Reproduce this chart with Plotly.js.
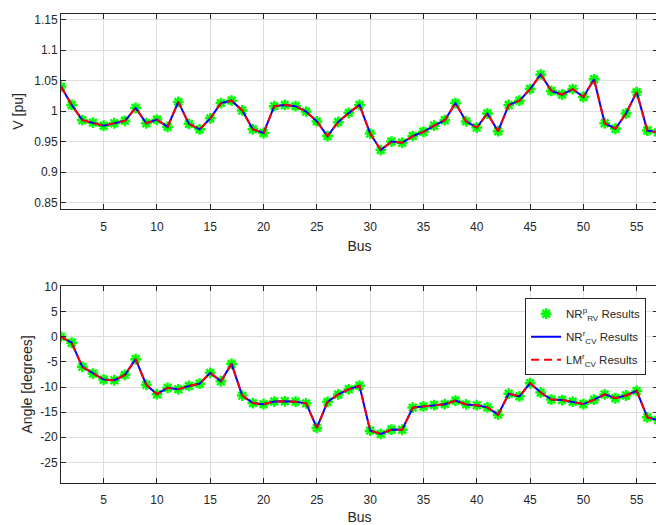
<!DOCTYPE html>
<html>
<head>
<meta charset="utf-8">
<script src="https://cdn.plot.ly/plotly-3.0.1.min.js"></script>
<style>
html,body{margin:0;padding:0;overflow:hidden;background:#fff;}
#chart{width:658px;height:525px;}
</style>
</head>
<body>
<div id="chart"></div>
<script>
// Bus numbers
const bus = [1,2,3,4,5,6,7,8,9,10,11,12,13,14,15,16,17,18,19,20,21,22,23,24,25,26,27,28,29,30,
             31,32,33,34,35,36,37,38,39,40,41,42,43,44,45,46,47,48,49,50,51,52,53,54,55,56,57];
// Voltage magnitude [pu] (all three methods coincide)
const voltage = [1.040,1.010,0.985,0.981,0.976,0.980,0.984,1.005,0.980,0.986,0.974,1.015,0.979,0.970,0.988,
                 1.013,1.017,1.001,0.970,0.964,1.008,1.010,1.008,0.999,0.983,0.959,0.982,0.997,1.010,0.963,
                 0.936,0.950,0.948,0.959,0.966,0.976,0.985,1.013,0.983,0.973,0.996,0.967,1.010,1.017,1.036,
                 1.060,1.033,1.027,1.036,1.023,1.052,0.980,0.971,0.996,1.031,0.968,0.965];
// Voltage angle [degrees]
const angle = [0.00,-1.19,-5.99,-7.32,-8.52,-8.65,-7.58,-4.45,-9.56,-11.43,-10.17,-10.46,-9.79,-9.33,-7.18,
               -8.85,-5.39,-11.71,-13.20,-13.41,-12.89,-12.84,-12.91,-13.25,-18.13,-12.95,-11.48,-10.45,-9.75,-18.68,
               -19.34,-18.46,-18.50,-14.10,-13.86,-13.59,-13.41,-12.71,-13.46,-13.62,-14.05,-15.50,-11.33,-11.86,-9.25,
               -11.09,-12.49,-12.59,-12.92,-13.39,-12.52,-11.47,-12.23,-11.69,-10.78,-16.04,-16.56];

const seriesNames = ['NR<sup>p</sup><sub>RV</sub> Results', 'NR<sup>r</sup><sub>CV</sub> Results', 'LM<sup>r</sup><sub>CV</sub> Results'];

const xTickVals = [5,10,15,20,25,30,35,40,45,50,55];
const xTickText = ['5','10','15','20','25','30','35','40','45','50','55'];
const vTickVals = [0.85,0.9,0.95,1,1.05,1.1,1.15];
const vTickText = ['0.85','0.9','0.95','1','1.05','1.1','1.15'];
const aTickVals = [-25,-20,-15,-10,-5,0,5,10];
const aTickText = ['-25','-20','-15','-10','-5','0','5','10'];

const axisCol = '#262626';
const gridCol = '#dedede';
const fam = 'Liberation Sans, Arial, sans-serif';
const font = {family: fam, size: 12, color: axisCol};
const titleFont = {family: fam, size: 14, color: axisCol};

function mk(yvals, yaxis, xaxis, show) {
  return [
    {x: bus, y: yvals, xaxis: xaxis, yaxis: yaxis, type: 'scatter', mode: 'markers', name: seriesNames[0],
     legendgroup: 'g1', showlegend: show,
     marker: {symbol: 'asterisk-open', size: 9, color: '#00ff00', line: {color: '#00ff00', width: 2.5}}},
    {x: bus, y: yvals, xaxis: xaxis, yaxis: yaxis, type: 'scatter', mode: 'lines', name: seriesNames[1],
     legendgroup: 'g2', showlegend: show, line: {color: '#0000ff', width: 2}},
    {x: bus, y: yvals, xaxis: xaxis, yaxis: yaxis, type: 'scatter', mode: 'lines', name: seriesNames[2],
     legendgroup: 'g3', showlegend: show, line: {color: '#ff0000', width: 2, dash: '8px,5px'}}
  ];
}

const data = mk(voltage, 'y', 'x', false).concat(mk(angle, 'y2', 'x2', true));

const xBase = {
  range: [1, 57], tickvals: xTickVals, ticktext: xTickText,
  showgrid: true, gridcolor: gridCol, gridwidth: 1, zeroline: false,
  showline: true, linecolor: axisCol, linewidth: 1, mirror: 'ticks',
  ticks: 'inside', ticklen: 5, tickcolor: axisCol, tickfont: font, ticklabelstandoff: 6,
  title: {text: 'Bus', font: titleFont, standoff: 8}
};
const yBase = {
  showgrid: true, gridcolor: gridCol, gridwidth: 1, zeroline: false,
  showline: true, linecolor: axisCol, linewidth: 1, mirror: 'ticks',
  ticks: 'inside', ticklen: 5, tickcolor: axisCol, tickfont: font
};

const layout = {
  width: 658, height: 525,
  margin: {l: 61, r: 0, t: 14, b: 42},
  paper_bgcolor: '#fff', plot_bgcolor: '#fff',
  font: font,
  xaxis: Object.assign({}, xBase, {domain: [0, 1], anchor: 'y'}),
  yaxis: Object.assign({}, yBase, {domain: [0.5836, 1], anchor: 'x', range: [0.839, 1.159],
    tickvals: vTickVals, ticktext: vTickText}),
  xaxis2: Object.assign({}, xBase, {domain: [0, 1], anchor: 'y2'}),
  yaxis2: Object.assign({}, yBase, {domain: [0, 0.42], anchor: 'x2', range: [-29.1, 10.1],
    tickvals: aTickVals, ticktext: aTickText}),
  annotations: [
    {text: 'V [pu]', xref: 'paper', yref: 'y domain', x: -0.072, y: 0.5, xanchor: 'center', yanchor: 'middle',
     textangle: -90, showarrow: false, font: titleFont},
    {text: 'Angle [degrees]', xref: 'paper', yref: 'y2 domain', x: -0.057, y: 0.5, xanchor: 'center', yanchor: 'middle',
     textangle: -90, showarrow: false, font: titleFont}
  ],
  showlegend: true,
  legend: {x: 0.98, xanchor: 'right', y: 0.394, yanchor: 'top',
    bgcolor: '#ffffff', bordercolor: '#262626', borderwidth: 1,
    font: {family: fam, size: 11.5, color: axisCol}, tracegroupgap: 4}
};

Plotly.newPlot('chart', data, layout, {displayModeBar: false, staticPlot: true});
</script>
</body>
</html>
